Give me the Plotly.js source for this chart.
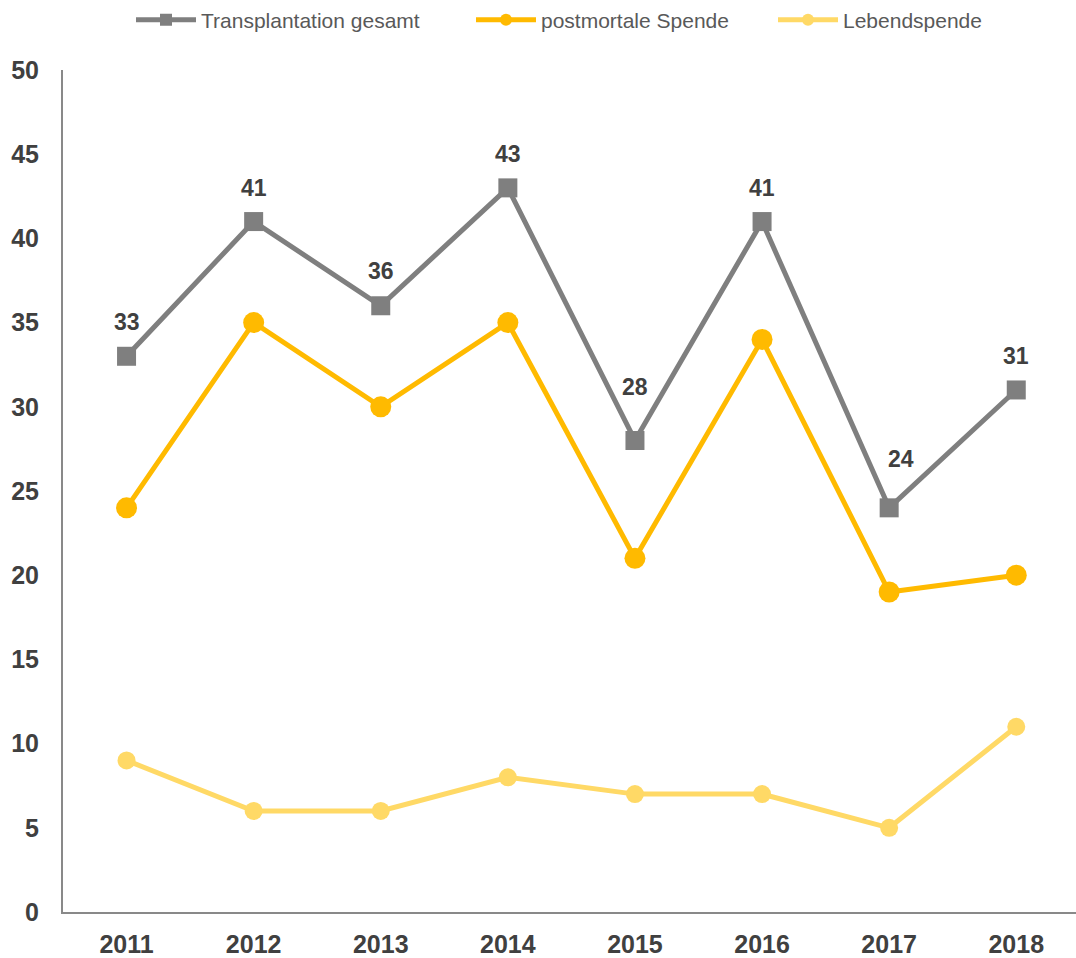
<!DOCTYPE html>
<html>
<head>
<meta charset="utf-8">
<script src="https://cdn.plot.ly/plotly-3.0.1.min.js"></script>
<style>html,body{margin:0;padding:0;background:#fff;}#chart{width:1076px;height:958px;}</style>
</head>
<body>
<div id="chart"></div>
<script>
const years = ['2011','2012','2013','2014','2015','2016','2017','2018'];
const gesamt = [33, 41, 36, 43, 28, 41, 24, 31];
const postmortal = [24, 35, 30, 35, 21, 34, 19, 20];
const lebend = [9, 6, 6, 8, 7, 7, 5, 11];
const seriesNames = ['Transplantation gesamt', 'postmortale Spende', 'Lebendspende'];
const yTicks = [0, 5, 10, 15, 20, 25, 30, 35, 40, 45, 50];

const FONT = 'Liberation Sans, Arial, sans-serif';

// label placement (pixel offsets from each point), as in the original chart
const labelOffsetX = [0, 0, 0, 0, 0, 0, 12, 0];
const labelOffsetY = [34, 34, 35, 34, 53, 34, 49, 34];

const traces = [
  {
    x: years, y: gesamt, name: seriesNames[0], type: 'scatter', mode: 'lines+markers',
    line: {color: '#7F7F7F', width: 5},
    marker: {symbol: 'square', size: 19, color: '#7F7F7F'},
    legend: 'legend', hoverinfo: 'skip'
  },
  {
    x: years, y: postmortal, name: seriesNames[1], type: 'scatter', mode: 'lines+markers',
    line: {color: '#FFBA00', width: 5},
    marker: {symbol: 'circle', size: 21, color: '#FFBA00'},
    legend: 'legend2', hoverinfo: 'skip'
  },
  {
    x: years, y: lebend, name: seriesNames[2], type: 'scatter', mode: 'lines+markers',
    line: {color: '#FFD966', width: 5},
    marker: {symbol: 'circle', size: 18, color: '#FFD966'},
    legend: 'legend3', hoverinfo: 'skip'
  }
];

const annotations = years.map((yr, i) => ({
  x: i, y: gesamt[i], xref: 'x', yref: 'y',
  text: String(gesamt[i]), showarrow: false,
  xshift: labelOffsetX[i], yshift: labelOffsetY[i], xanchor: 'center', yanchor: 'middle',
  font: {family: FONT, size: 23, color: '#404040', weight: 'bold'}
}));

function leg(xpx) {
  return {
    orientation: 'h', xref: 'container', yref: 'container',
    x: xpx / 1076, xanchor: 'left', y: 1 - 20 / 958, yanchor: 'middle',
    font: {family: FONT, size: 21, color: '#595959'},
    itemwidth: 60, itemsizing: 'constant', bgcolor: 'rgba(0,0,0,0)'
  };
}

const layout = {
  width: 1076, height: 958,
  margin: {l: 63, r: 0, t: 70, b: 46, pad: 0},
  paper_bgcolor: '#ffffff', plot_bgcolor: '#ffffff',
  showlegend: true,
  legend: leg(131),
  legend2: leg(471),
  legend3: leg(773),
  xaxis: {
    type: 'category', range: [-0.5, 7.47],
    showline: true, linecolor: '#898989', linewidth: 2,
    showgrid: false, zeroline: false, ticks: '',
    ticklabelstandoff: 9,
    tickfont: {family: FONT, size: 25, color: '#404040', weight: 'bold'},
    fixedrange: true
  },
  yaxis: {
    range: [0, 50], tickmode: 'array', tickvals: yTicks, ticktext: yTicks.map(String),
    showline: true, linecolor: '#898989', linewidth: 2,
    showgrid: false, zeroline: false, ticks: '',
    ticklabelstandoff: 17,
    tickfont: {family: FONT, size: 25, color: '#404040', weight: 'bold'},
    fixedrange: true
  },
  annotations: annotations,
  hovermode: false
};

Plotly.newPlot('chart', traces, layout, {displayModeBar: false, staticPlot: true});
</script>
</body>
</html>
